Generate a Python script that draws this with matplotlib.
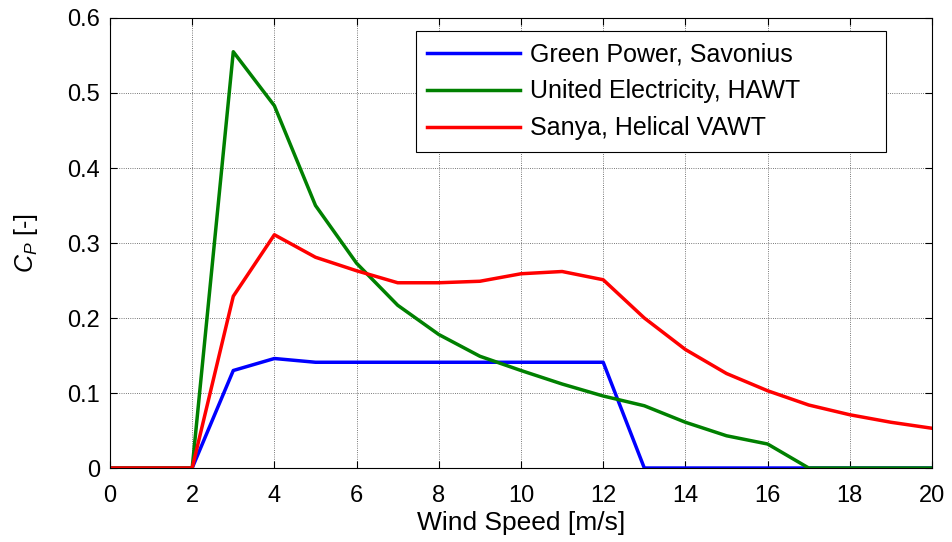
import numpy as np
import matplotlib; matplotlib.use("Agg")
import matplotlib.pyplot as plt

plt.rcParams['font.family'] = ['Liberation Sans', 'DejaVu Sans']
plt.rcParams['mathtext.fontset'] = 'custom'
plt.rcParams['mathtext.rm'] = 'Liberation Sans'
plt.rcParams['mathtext.it'] = 'Liberation Sans:italic'

wind = list(range(0, 21))
savonius = [0, 0, 0, 0.130, 0.146, 0.141, 0.141, 0.141, 0.141, 0.141, 0.141,
            0.141, 0.141, 0, 0, 0, 0, 0, 0, 0, 0]
hawt = [0, 0, 0, 0.555, 0.483, 0.350, 0.273, 0.217, 0.178, 0.149, 0.130,
        0.112, 0.096, 0.083, 0.061, 0.043, 0.032, 0, 0, 0, 0]
helical = [0, 0, 0, 0.229, 0.311, 0.281, 0.263, 0.247, 0.247, 0.249, 0.259,
           0.262, 0.251, 0.200, 0.158, 0.126, 0.103, 0.084, 0.071, 0.061, 0.053]
labels = ["Green Power, Savonius", "United Electricity, HAWT", "Sanya, Helical VAWT"]

fig = plt.figure(figsize=(9.53, 5.42), dpi=100)
ax = fig.add_axes([0.1154, 0.1365, 0.8626, 0.8303])
ax.plot(wind, savonius, color=(0, 0, 1), lw=2.5, label=labels[0])
ax.plot(wind, hawt, color=(0, 0.5, 0), lw=2.5, label=labels[1])
ax.plot(wind, helical, color=(1, 0, 0), lw=2.5, label=labels[2])

ax.set_xlim(0, 20); ax.set_ylim(0, 0.6)
ax.set_xticks(range(0, 21, 2))
ax.set_yticks(np.arange(0, 0.61, 0.1))
ax.set_yticklabels(["0", "0.1", "0.2", "0.3", "0.4", "0.5", "0.6"])
ax.tick_params(direction='in', top=True, right=True, labelsize=17, length=5, width=0.8, pad=7)
ax.tick_params(axis='x', pad=12)
ax.grid(True, color='black', ls=':', lw=0.6, alpha=0.7)
for s in ax.spines.values():
    s.set_linewidth(0.8)
ax.set_xlabel("Wind Speed [m/s]", fontsize=19, labelpad=3)
ax.set_ylabel(r"$C_P$ [-]", fontsize=18, labelpad=20)

# legend box spans x 416..886 px, top at 31 px in the reference
leg = ax.legend(loc='upper left', bbox_to_anchor=(0.372, 0.0, 0.572, 0.971), mode='expand',
                borderaxespad=0, fontsize=18, fancybox=False, framealpha=1, edgecolor='black',
                handlelength=3.7, handletextpad=0.4, labelspacing=0.52, borderpad=0.45)
leg.get_frame().set_linewidth(0.8)

fig.savefig("out.png", dpi=100)
